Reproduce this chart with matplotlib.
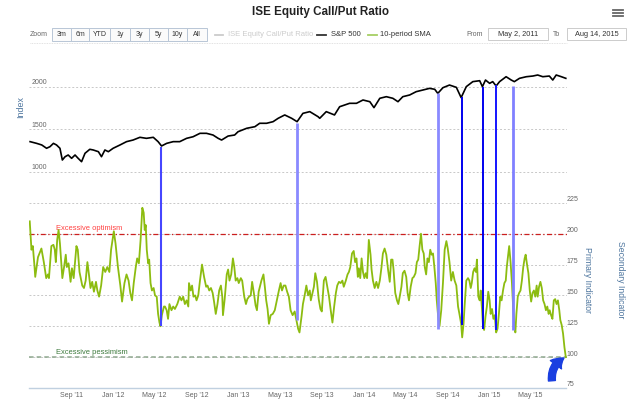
import numpy as np
import pandas as pd
import matplotlib
matplotlib.use('Agg')
import matplotlib.pyplot as plt
from matplotlib.patches import Rectangle
from matplotlib.lines import Line2D
import matplotlib.transforms as mtrans

plt.rcParams['font.family'] = ['Liberation Sans', 'DejaVu Sans']

# ---------------- data ----------------
START = pd.Timestamp('2011-05-02')
END = pd.Timestamp('2015-08-14')

# S&P 500 (days since START, index level)
sp_day = [2, 21, 36, 50, 60, 70, 79, 89, 96, 104, 113, 123, 133, 142, 152, 162, 176, 186, 201, 210,
          220, 230, 244, 264, 283, 302, 322, 341, 361, 375, 385, 400, 419, 438, 458, 477, 497, 516,
          535, 550, 560, 579, 598, 608, 633, 657, 671, 691, 710, 725, 744, 764, 780, 797, 817, 841,
          846, 865, 889, 904, 933, 953, 972, 992, 1004, 1021, 1040, 1059, 1074, 1088, 1108, 1127,
          1147, 1166, 1181, 1190, 1205, 1224, 1244, 1258, 1273, 1292, 1312, 1320, 1329, 1341, 1350,
          1360, 1370, 1389, 1404, 1413, 1428, 1448, 1467, 1481, 1496, 1515, 1525, 1535, 1550, 1563]
sp_val = [1357, 1337, 1318, 1279, 1298, 1337, 1318, 1279, 1141, 1180, 1200, 1161, 1200, 1161, 1121,
          1220, 1267, 1259, 1239, 1180, 1259, 1239, 1279, 1318, 1357, 1376, 1408, 1396, 1408, 1357,
          1306, 1337, 1357, 1357, 1396, 1415, 1455, 1455, 1435, 1396, 1376, 1423, 1435, 1474, 1514,
          1533, 1573, 1573, 1592, 1632, 1671, 1632, 1592, 1690, 1710, 1651, 1632, 1710, 1671, 1768,
          1808, 1808, 1847, 1827, 1757, 1867, 1886, 1867, 1827, 1886, 1906, 1945, 1965, 1984, 1973,
          1925, 1992, 2023, 1996, 1875, 2004, 2063, 2074, 2004, 2082, 2043, 2063, 2012, 2063, 2121,
          2082, 2063, 2102, 2121, 2129, 2141, 2121, 2129, 2082, 2141, 2121, 2102]

# ISE equity call/put ratio, 10-period SMA (days since START, value)
ratio_day = [1, 6, 10, 15, 17, 25, 35, 42, 49, 54, 57, 64, 70, 74, 77, 81, 85, 89, 96, 101, 106, 109,
             114, 120, 124, 129, 137, 141, 146, 154, 159, 164, 169, 173, 178, 183, 188, 194, 198, 203,
             209, 215, 221, 227, 233, 238, 246, 251, 258, 265, 270, 277, 283, 289, 294, 299, 304, 310,
             314, 319, 324, 329, 333, 336, 339, 342, 346, 349, 353, 357, 362, 366, 371, 375, 379, 382,
             386, 392, 395, 400, 404, 408, 414, 419, 424, 431, 438, 443, 448, 453, 458, 463, 465, 470,
             474, 478, 483, 487, 492, 497, 503, 509, 515, 519, 524, 529, 534, 538, 543, 548, 553, 558,
             562, 564, 569, 575, 579, 583, 588, 593, 597, 601, 606, 610, 616, 620, 626, 631, 635, 640,
             645, 649, 654, 659, 663, 668, 676, 682, 686, 690, 694, 698, 703, 709, 715, 721, 727, 732,
             736, 741, 746, 751, 756, 761, 767, 773, 778, 783, 787, 793, 797, 802, 807, 812, 817, 820,
             825, 829, 833, 838, 843, 848, 852, 858, 863, 868, 873, 878, 883, 888, 893, 897, 902, 907,
             912, 916, 922, 927, 931, 935, 940, 945, 949, 953, 957, 960, 964, 968, 972, 976, 980, 984,
             989, 994, 997, 1001, 1006, 1011, 1016, 1021, 1026, 1030, 1035, 1040, 1045, 1050, 1054,
             1058, 1061, 1066, 1071, 1075, 1079, 1084, 1088, 1093, 1098, 1102, 1106, 1111, 1116, 1120,
             1125, 1129, 1133, 1137, 1141, 1145, 1149, 1152, 1156, 1160, 1164, 1168, 1172, 1176, 1180,
             1184, 1187, 1191, 1195, 1200, 1205, 1210, 1215, 1219, 1224, 1229, 1234, 1239, 1244, 1249,
             1253, 1258, 1261, 1265, 1268, 1273, 1278, 1282, 1286, 1289, 1293, 1297, 1301, 1304, 1308,
             1312, 1315, 1319, 1322, 1325, 1329, 1333, 1337, 1341, 1344, 1348, 1352, 1356, 1360, 1364,
             1368, 1372, 1376, 1380, 1384, 1388, 1391, 1395, 1398, 1402, 1406, 1410, 1413, 1416, 1419,
             1423, 1427, 1431, 1435, 1439, 1443, 1446, 1450, 1454, 1458, 1462, 1466, 1470, 1474, 1478,
             1481, 1485, 1489, 1493, 1497, 1501, 1505, 1509, 1513, 1516, 1520, 1524, 1528, 1532, 1536,
             1540, 1544, 1547, 1551, 1555, 1559, 1563]
ratio_val = [210, 187, 190, 173, 165, 181, 188, 177, 164, 167, 164, 190, 191, 187, 177, 195, 203, 192,
             164, 173, 183, 173, 176, 161, 172, 164, 190, 187, 169, 158, 156, 162, 177, 168, 156, 161,
             153, 161, 154, 149, 158, 173, 169, 173, 169, 187, 202, 192, 173, 158, 145, 160, 167, 162,
             152, 146, 160, 173, 180, 176, 195, 221, 217, 203, 207, 187, 176, 179, 160, 154, 156, 150,
             149, 135, 128, 125, 134, 141, 141, 138, 131, 143, 138, 141, 139, 143, 149, 146, 149, 143,
             146, 141, 160, 154, 158, 149, 150, 146, 150, 162, 175, 165, 157, 158, 154, 156, 152, 145,
             135, 143, 154, 158, 149, 134, 147, 167, 171, 162, 167, 180, 173, 162, 164, 160, 164, 162,
             149, 143, 147, 149, 150, 161, 152, 142, 138, 153, 162, 167, 157, 146, 139, 127, 134, 135,
             138, 146, 154, 160, 154, 158, 158, 153, 149, 138, 134, 137, 130, 123, 120, 133, 143, 150,
             158, 150, 154, 146, 152, 157, 168, 161, 147, 139, 137, 162, 165, 157, 149, 138, 128, 141,
             152, 158, 161, 160, 162, 157, 162, 167, 169, 173, 184, 186, 177, 180, 165, 172, 164, 180,
             169, 164, 168, 164, 195, 183, 171, 162, 156, 161, 156, 162, 173, 184, 188, 183, 171, 161,
             179, 179, 171, 152, 146, 143, 149, 157, 168, 170, 165, 152, 146, 157, 164, 165, 168, 177,
             179, 190, 200, 187, 184, 173, 167, 180, 177, 187, 183, 184, 173, 160, 146, 133, 125, 138,
             160, 187, 194, 188, 177, 162, 169, 162, 158, 141, 135, 127, 116, 127, 141, 162, 164, 162,
             156, 160, 169, 172, 169, 179, 149, 146, 154, 138, 124, 122, 133, 141, 153, 146, 135, 139,
             131, 134, 120, 123, 135, 149, 146, 154, 160, 162, 173, 183, 190, 177, 160, 138, 126, 120,
             135, 149, 152, 154, 162, 173, 180, 183, 175, 168, 154, 145, 152, 154, 149, 158, 149, 157,
             161, 156, 146, 143, 138, 141, 135, 138, 134, 131, 146, 147, 143, 146, 138, 130, 126, 119,
             108, 100]

# signals: vertical links from S&P low to ratio low
signal_dates = ['2012-05-18', '2013-06-20', '2014-08-06', '2014-10-13', '2014-12-15', '2015-01-21', '2015-03-12']
signal_sp = [1298, 1573, 1925, 1878, 2004, 2023, 2012]
signal_ratio = [125, 130, 123, 126, 123, 122, 122]

left_ticks = [1000, 1500, 2000]
right_ticks = [75, 100, 125, 150, 175, 200, 225]
xtick_dates = ['2011-09-01', '2012-01-01', '2012-05-01', '2012-09-01', '2013-01-01', '2013-05-01',
               '2013-09-01', '2014-01-01', '2014-05-01', '2014-09-01', '2015-01-01', '2015-05-01']
xtick_labels = ["Sep '11", "Jan '12", "May '12", "Sep '12", "Jan '13", "May '13",
                "Sep '13", "Jan '14", "May '14", "Sep '14", "Jan '15", "May '15"]
optimism_level = 200
pessimism_level = 100
range_buttons = ['3m', '6m', 'YTD', '1y', '3y', '5y', '10y', 'All']
legend_names = ['ISE Equity Call/Put Ratio', 'S&P 500', '10-period SMA']

# ---------------- styling ----------------
W, H = 640, 400
def fx(px): return px / W
def fy(py): return 1 - py / H

GRID = '#c8c8c8'
LABEL = '#666666'
AXTITLE = '#4d759e'

fig = plt.figure(figsize=(6.4, 4.0), dpi=100)
fig.patch.set_facecolor('white')

ax = fig.add_axes([fx(29.4), fy(388), fx(566.5) - fx(29.4), (388 - 60) / H])
ax2 = ax.twinx()

sp_dates = START + pd.to_timedelta(sp_day, unit='D')
ratio_dates = START + pd.to_timedelta(ratio_day, unit='D')

ax.set_xlim(START, END)
ax.set_ylim(-1541.2, 2317.6)
ax2.set_ylim(75, 75 + 328 / 1.2344)

for a in (ax, ax2):
    for s in a.spines.values():
        s.set_visible(False)
    a.set_yticks([])
    a.tick_params(axis='y', length=0)
ax.spines['bottom'].set_visible(True)
ax.spines['bottom'].set_color('#c0d0e0')
ax.spines['bottom'].set_linewidth(1.0)

# grid lines
for v in left_ticks:
    ax.axhline(v, color=GRID, lw=0.7, ls=(0, (2, 2)), zorder=0)
for v in right_ticks[1:]:
    ax2.axhline(v, color=GRID, lw=0.7, ls=(0, (2, 2)), zorder=0)

# left tick labels (inside, above grid line)
tl = mtrans.offset_copy(mtrans.blended_transform_factory(ax.transAxes, ax.transData),
                        fig=fig, x=2, y=4, units='dots')
for v in left_ticks:
    ax.text(0, v, str(v), transform=tl, ha='left', va='center', fontsize=5, color=LABEL)
# right tick labels
tr = mtrans.offset_copy(mtrans.blended_transform_factory(ax.transAxes, ax2.transData),
                        fig=fig, x=0, y=3, units='dots')
for v in right_ticks:
    ax2.text(1.0, v, str(v), transform=tr, ha='left', va='center', fontsize=5, color=LABEL)

# x ticks
ax.set_xticks(pd.to_datetime(xtick_dates))
ax.set_xticklabels(xtick_labels, fontsize=5, color=LABEL)
ax.tick_params(axis='x', length=0, pad=2.6)

# threshold lines
ax2.axhline(optimism_level, color='#cc1f1f', lw=0.9, ls=(0, (4, 2, 1, 2)), zorder=1)
ax2.axhline(pessimism_level, color='#8fa88f', lw=1.1, ls=(0, (3, 2)), zorder=1)
tt = mtrans.offset_copy(mtrans.blended_transform_factory(ax.transAxes, ax2.transData),
                        fig=fig, x=0, y=5, units='dots')
ax2.text(0.049, optimism_level, 'Excessive optimism', transform=tt, fontsize=5.4,
         color='#ff4040', ha='left', va='center', zorder=2)
ax2.text(0.049, pessimism_level, 'Excessive pessimism', transform=tt, fontsize=5.4,
         color='#3d7a3d', ha='left', va='center', zorder=2)

# series
ax.plot(sp_dates, sp_val, color='black', lw=1.2, zorder=3)
ax2.plot(ratio_dates, ratio_val, color='#8cbc10', lw=1.3, zorder=3, solid_joinstyle='round')

# signal lines
sig_colors = ['#4646ff', '#8a8aff', '#8a8aff', '#0000ee', '#0000ee', '#1414ff', '#8080ff']
sig_widths = [1.5, 2.0, 2.0, 1.4, 1.4, 1.4, 2.0]
for d, s, r, c, w in zip(pd.to_datetime(signal_dates), signal_sp, signal_ratio, sig_colors, sig_widths):
    ydisp = ax.transData.transform((0, s))[1]
    top = ax2.transData.inverted().transform((0, ydisp))[1]
    ax2.vlines(d, r, top, color=c, lw=w, zorder=4)

# arrow pointing to the last value
ax2.annotate('', xy=(ratio_dates[-1], ratio_val[-1]), xytext=(-10, -17), textcoords='offset points',
             arrowprops=dict(arrowstyle='simple,head_width=1.0,head_length=0.75,tail_width=0.5',
                             color='#1a3fe0', connectionstyle='arc3,rad=-0.35',
                             shrinkA=0, shrinkB=1.5), zorder=6)

# axis titles
fig.text(fx(20.7), fy(107), 'Index', rotation=90, ha='center', va='center', fontsize=6.4, color=AXTITLE)
fig.text(fx(587.7), fy(280), 'Primary Indicator', rotation=270, ha='center', va='center',
         fontsize=6.2, color=AXTITLE)
fig.text(fx(620), fy(280), 'Secondary Indicator', rotation=270, ha='center', va='center',
         fontsize=6.2, color=AXTITLE)

# title
fig.text(0.5, fy(12), 'ISE Equity Call/Put Ratio', ha='center', va='center', fontsize=8.4,
         fontweight='bold', color='#222222')

# menu icon
for yy in (9.8, 13, 16.2):
    fig.add_artist(Line2D([fx(613), fx(623)], [fy(yy), fy(yy)], color='#666666', lw=1.3))

# range selector
ROW = 34.5
fig.text(fx(30), fy(ROW), 'Zoom', ha='left', va='center', fontsize=5, color=LABEL)
edges = [51.7, 70.7, 89.3, 110, 130, 149, 167.7, 187.3, 206.7]
for i, lab in enumerate(range_buttons):
    x0, x1 = edges[i], edges[i + 1]
    fig.add_artist(Rectangle((fx(x0), fy(40.7)), fx(x1) - fx(x0), (40.7 - 28.3) / H,
                             facecolor='#fbfbfb', edgecolor='#b8c6d6', lw=0.7))
    fig.text(fx((x0 + x1) / 2), fy(ROW), lab, ha='center', va='center', fontsize=5, color='#333333')

# legend
leg = [(215, 223, 227.7, '#cccccc', '#cccccc'),
       (317, 326, 331, '#333333', '#333333'),
       (368, 377, 380.5, '#a6cf63', '#333333')]
for (a0, a1, tx, lc, tc), name in zip(leg, legend_names):
    fig.add_artist(Line2D([fx(a0), fx(a1)], [fy(ROW), fy(ROW)], color=lc, lw=1.3))
    fig.text(fx(tx), fy(ROW), name, ha='left', va='center', fontsize=5.5, color=tc)

# date inputs
fig.text(fx(466.7), fy(ROW), 'From', ha='left', va='center', fontsize=5, color=LABEL)
fig.text(fx(553), fy(ROW), 'To', ha='left', va='center', fontsize=5, color=LABEL)
for x0, x1, txt in [(488.3, 547.7, 'May 2, 2011'), (567.3, 626, 'Aug 14, 2015')]:
    fig.add_artist(Rectangle((fx(x0), fy(40)), fx(x1) - fx(x0), (40 - 28.3) / H,
                             facecolor='white', edgecolor='#cccccc', lw=0.7))
    fig.text(fx((x0 + x1) / 2), fy(ROW), txt, ha='center', va='center', fontsize=5.3, color='#333333')

fig.add_artist(Line2D([fx(30), fx(566.7)], [fy(43.3), fy(43.3)], color='#d8d8d8', lw=0.6, ls=(0, (1, 1))))

fig.savefig('out.png', dpi=100, facecolor='white')
